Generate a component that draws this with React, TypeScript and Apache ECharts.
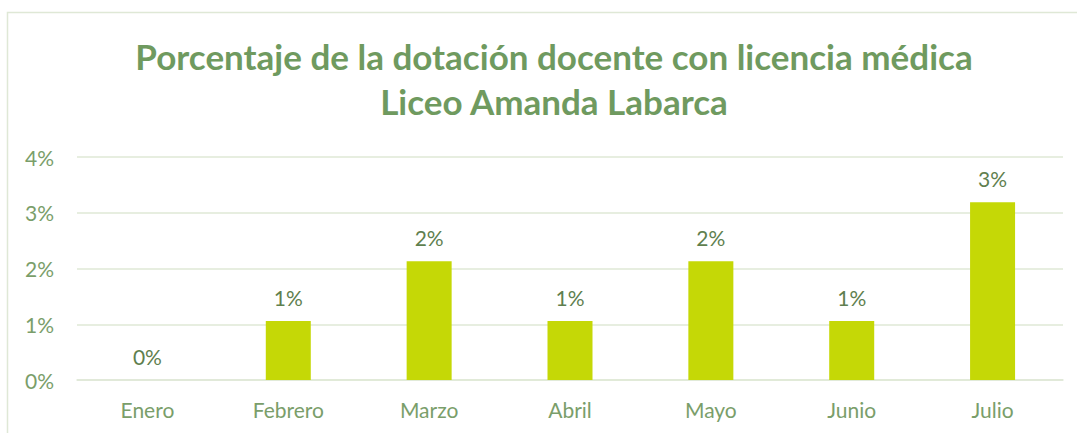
import React, { useEffect, useRef } from "react";
import * as echarts from "echarts";

const titleLines = ["Porcentaje de la dotación docente con licencia médica", "Liceo Amanda Labarca"];
const categories = ["Enero", "Febrero", "Marzo", "Abril", "Mayo", "Junio", "Julio"];
const values = [0, 1.06, 2.13, 1.06, 2.13, 1.06, 3.19];
const yTicks = [0, 1, 2, 3, 4];

export default function App() {
  const ref = useRef<HTMLDivElement>(null);
  useEffect(() => {
    const chart = echarts.init(ref.current!, undefined, { renderer: "svg" });
    chart.setOption({
      animation: false,
      backgroundColor: "#ffffff",
      graphic: [
        {
          type: "rect",
          shape: { x: 7.5, y: 12.5, width: 1200, height: 600 },
          style: { fill: "none", stroke: "#dfe8d6", lineWidth: 1.5 },
          silent: true,
        },
      ],
      title: {
        text: titleLines.join("\n"),
        left: 549,
        textAlign: "center",
        top: 28,
        textStyle: {
          fontFamily: "Lato",
          fontWeight: "bold",
          fontSize: 35,
          lineHeight: 45,
          color: "#6f9a5f",
        },
      },
      grid: { left: 77, right: 14, top: 157, bottom: 53, containLabel: false },
      xAxis: {
        type: "category",
        data: categories,
        axisLine: { show: true, lineStyle: { color: "#dfe8d6", width: 1.5 } },
        axisTick: { show: false },
        axisLabel: { color: "#7a9e6a", fontFamily: "Lato", fontSize: 21, margin: 19 },
      },
      yAxis: {
        type: "value",
        min: yTicks[0],
        max: yTicks[yTicks.length - 1],
        interval: 1,
        axisLine: { show: false },
        axisTick: { show: false },
        splitLine: { lineStyle: { color: "#dfe8d6", width: 1.5 } },
        axisLabel: {
          color: "#7a9e6a",
          fontFamily: "Lato",
          fontSize: 21,
          margin: 23,
          formatter: (v: number) => `${Math.round(v)}%`,
        },
      },
      series: [
        {
          type: "bar",
          data: values,
          barWidth: 45,
          itemStyle: { color: "#c5d806" },
          label: {
            show: true,
            position: "top",
            distance: 13,
            color: "#5f7f4f",
            fontFamily: "Lato",
            fontSize: 21,
            formatter: (p: any) => `${Math.round(p.value)}%`,
          },
        },
      ],
    });
    return () => chart.dispose();
  }, []);
  return (
    <div
      ref={ref}
      style={{ position: "fixed", left: 0, top: 0, width: 1077, height: 433 }}
    />
  );
}
